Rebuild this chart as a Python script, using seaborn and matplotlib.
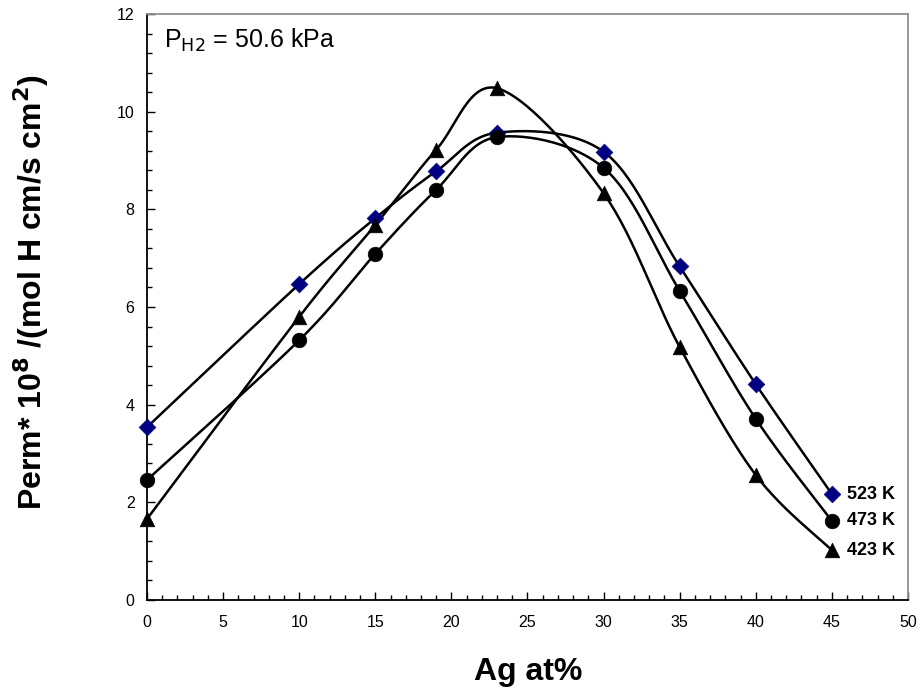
import numpy as np
import pandas as pd
import matplotlib
matplotlib.use("Agg")
import matplotlib.pyplot as plt
from matplotlib.ticker import MultipleLocator
import seaborn as sns

# ---- data ----
ag_at = [0, 10, 15, 19, 23, 30, 35, 40, 45]
perm_523 = [3.54, 6.47, 7.82, 8.78, 9.57, 9.18, 6.83, 4.42, 2.17]
perm_473 = [2.46, 5.32, 7.09, 8.40, 9.48, 8.85, 6.33, 3.71, 1.62]
perm_423 = [1.66, 5.80, 7.68, 9.22, 10.48, 8.33, 5.18, 2.56, 1.02]
series_labels = ["523 K", "473 K", "423 K"]
x_ticks = [0, 5, 10, 15, 20, 25, 30, 35, 40, 45, 50]
y_ticks = [0, 2, 4, 6, 8, 10, 12]


def smooth(xs, ys, n=30):
    """Excel-like smoothed line (Catmull-Rom cubic Bezier) through the points."""
    P = np.column_stack([xs, ys]).astype(float)
    m = len(P)
    out = []
    for i in range(m - 1):
        p0 = P[i - 1] if i > 0 else P[i]
        p1 = P[i]
        p2 = P[i + 1]
        p3 = P[i + 2] if i + 2 < m else P[i + 1]
        c1 = p1 + (p2 - p0) / 6.0
        c2 = p2 - (p3 - p1) / 6.0
        t = np.linspace(0, 1, n, endpoint=(i == m - 2))[:, None]
        seg = ((1 - t) ** 3) * p1 + 3 * ((1 - t) ** 2) * t * c1 + 3 * (1 - t) * t ** 2 * c2 + t ** 3 * p2
        out.append(seg)
    out = np.vstack(out)
    return out[:, 0], out[:, 1]


plt.rcParams['font.family'] = ['Liberation Sans', 'DejaVu Sans']
fig = plt.figure(figsize=(9.23, 6.94), dpi=100)
ax = fig.add_axes([0.1593, 0.1354, 0.8244, 0.8444])

styles = [
    (perm_523, "D", "#000080", 8.5),
    (perm_473, "o", "black", 10.5),
    (perm_423, "^", "black", 10.5),
]

for (vals, mk, col, ms), lab in zip(styles, series_labels):
    sx, sy = smooth(ag_at, vals)
    dfc = pd.DataFrame({"x": sx, "y": sy})
    sns.lineplot(data=dfc, x="x", y="y", sort=False, estimator=None,
                 color="black", linewidth=1.8, ax=ax, zorder=2)
    dfp = pd.DataFrame({"x": ag_at, "y": vals})
    sns.scatterplot(data=dfp, x="x", y="y", marker=mk, color=col,
                    s=ms ** 2, edgecolor=col, linewidth=0.5, ax=ax, zorder=3,
                    clip_on=False)
    ax.text(ag_at[-1] + 1.0, vals[-1], lab, fontsize=13, fontweight="bold",
            ha="left", va="center")

ax.set_xlim(0, 50)
ax.set_ylim(0, 12)
ax.set_xticks(x_ticks)
ax.set_yticks(y_ticks)
ax.xaxis.set_minor_locator(MultipleLocator(1))
ax.yaxis.set_minor_locator(MultipleLocator(0.4))
ax.tick_params(axis="both", which="major", direction="in", length=6, width=1,
               labelsize=11.5, top=False, right=False)
ax.tick_params(axis="both", which="minor", direction="in", length=3.5, width=1,
               top=False, right=False)
ax.tick_params(axis="x", which="major", pad=11)
ax.tick_params(axis="y", which="major", pad=9)

for s in ["left", "bottom"]:
    ax.spines[s].set_color("black")
    ax.spines[s].set_linewidth(1.3)
for s in ["top", "right"]:
    ax.spines[s].set_color("#909090")
    ax.spines[s].set_linewidth(1.3)

ax.set_xlabel("Ag at%", fontsize=23, fontweight="bold", va="center")
ax.xaxis.set_label_coords(0.5007, -0.123)
ax.set_ylabel(r"Perm* 10$^{\mathbf{8}}$ /(mol H cm/s cm$^{\mathbf{2}}$)",
              fontsize=23, fontweight="bold", va="center")
ax.yaxis.set_label_coords(-0.152, 0.526)

ax.text(0.022, 0.955, r"P$_{\mathrm{H2}}$ = 50.6 kPa", transform=ax.transAxes,
        fontsize=18, ha="left", va="center")

fig.savefig("out.png", dpi=100)
